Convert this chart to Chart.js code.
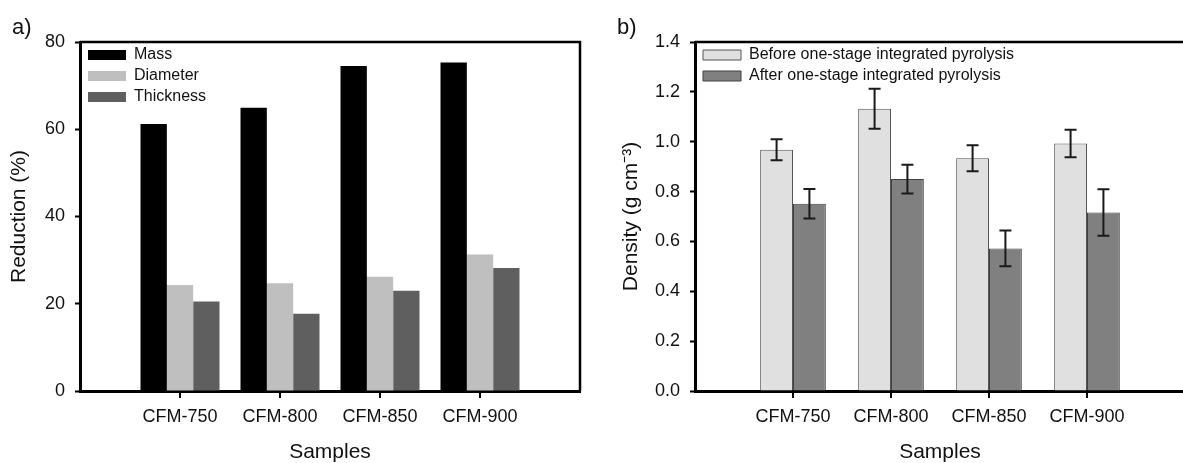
<!DOCTYPE html>
<html>
<head>
<meta charset="utf-8">
<script src="https://cdn.jsdelivr.net/npm/chart.js@4"></script>
<style>
  html, body { margin: 0; padding: 0; background: #fff; overflow: hidden; width: 1183px; height: 463px; }
  .panel { position: absolute; top: 0; width: 600px; height: 463px; }
  .panel canvas { width: 600px; height: 463px; display: block; }
  .tag { position: absolute; top: 16px; font: 22px 'Liberation Sans', Arial, sans-serif; line-height: 22px; color: #111; }
</style>
</head>
<body>
<div class="panel" style="left:0px"><canvas id="chartA" width="600" height="463"></canvas></div>
<div class="panel" style="left:600px"><canvas id="chartB" width="600" height="463"></canvas></div>
<div class="tag" style="left:12px">a)</div>
<div class="tag" style="left:617px">b)</div>
<script>
const samples = ['CFM-750', 'CFM-800', 'CFM-850', 'CFM-900'];

// panel a - reduction (%)
const mass = [61.2, 64.9, 74.5, 75.3];
const diameter = [24.3, 24.7, 26.2, 31.3];
const thickness = [20.5, 17.7, 23.0, 28.2];

// panel b - density (g cm-3)
const densityBefore = [0.968, 1.132, 0.934, 0.993];
const errBefore = [0.042, 0.080, 0.052, 0.055];
const densityAfter = [0.751, 0.850, 0.572, 0.716];
const errAfter = [0.059, 0.058, 0.072, 0.093];

Chart.defaults.font.family = "'Liberation Sans', Arial, sans-serif";
Chart.defaults.color = '#111';

// empty slot on both sides so the groups sit at 1..4 on a 0..5 axis
const pad = arr => [null, ...arr, null];
const padLabels = ['', ...samples, ''];

const frame = {
  id: 'frame',
  afterLayout(chart) {
    // keep the legend inside the plot, in its top-left corner
    const lg = chart.legend, a = chart.chartArea;
    if (!lg) return;
    const w = lg.width, h = lg.height;
    lg.left = a.left + 3; lg.right = lg.left + w;
    lg.top = a.top; lg.bottom = lg.top + h;
  },
  afterDraw(chart) {
    const {ctx, chartArea: a} = chart;
    const x = chart.scales.x;
    ctx.save();
    ctx.strokeStyle = '#000';
    ctx.lineWidth = 2.5;
    ctx.beginPath();
    ctx.moveTo(a.left, a.top);
    ctx.lineTo(a.right, a.top);
    ctx.lineTo(a.right, a.bottom);
    ctx.stroke();
    // tick marks under each sample
    ctx.lineWidth = 2;
    ctx.beginPath();
    samples.forEach((s, i) => {
      const px = Math.round(x.getPixelForValue(i + 1));
      ctx.moveTo(px, a.bottom);
      ctx.lineTo(px, a.bottom + 7);
    });
    ctx.stroke();
    ctx.restore();
  }
};

const errorBars = {
  id: 'errorBars',
  afterDatasetsDraw(chart) {
    const {ctx} = chart;
    const y = chart.scales.y;
    ctx.save();
    ctx.strokeStyle = '#1a1a1a';
    ctx.lineWidth = 2;
    chart.data.datasets.forEach((ds, di) => {
      if (!ds.errors) return;
      chart.getDatasetMeta(di).data.forEach((bar, i) => {
        const v = ds.data[i];
        const e = ds.errors[i];
        if (v == null || e == null) return;
        const top = y.getPixelForValue(v + e);
        const bot = y.getPixelForValue(v - e);
        ctx.beginPath();
        ctx.moveTo(bar.x, top); ctx.lineTo(bar.x, bot);
        ctx.moveTo(bar.x - 6, top); ctx.lineTo(bar.x + 6, top);
        ctx.moveTo(bar.x - 6, bot); ctx.lineTo(bar.x + 6, bot);
        ctx.stroke();
      });
    });
    ctx.restore();
  }
};

function axes(yMax, yStep, yTitle, yAxisWidth, titlePad, tickFmt) {
  return {
    x: {
      offset: false,
      border: {display: true, color: '#000', width: 3},
      grid: {offset: false, drawOnChartArea: false, drawTicks: false},
      ticks: {font: {size: 18}, padding: 15, autoSkip: false, maxRotation: 0},
      title: {display: true, text: 'Samples', font: {size: 21, lineHeight: 1}, padding: {top: 0, bottom: 0}, color: '#111'},
      afterFit: s => { s.height = 72; }
    },
    y: {
      min: 0, max: yMax,
      border: {display: true, color: '#000', width: 3},
      grid: {drawOnChartArea: false, drawTicks: true, tickLength: 5, tickWidth: 2, tickColor: '#000'},
      ticks: {stepSize: yStep, font: {size: 18}, padding: 10, callback: tickFmt},
      title: {display: true, text: yTitle, font: {size: 21, lineHeight: 1}, padding: {top: titlePad, bottom: 0}, color: '#111'},
      afterFit: s => { s.width = yAxisWidth; }
    }
  };
}

const legendOpts = {
  position: 'chartArea',
  align: 'start',
  labels: {boxWidth: 38, boxHeight: 10, padding: 5, font: {size: 16}, color: '#111'}
};

new Chart(document.getElementById('chartA'), {
  type: 'bar',
  data: {
    labels: padLabels,
    datasets: [
      {label: 'Mass', data: pad(mass), backgroundColor: '#000000', borderWidth: 0},
      {label: 'Diameter', data: pad(diameter), backgroundColor: '#bfbfbf', borderWidth: 0},
      {label: 'Thickness', data: pad(thickness), backgroundColor: '#5f5f5f', borderWidth: 0}
    ]
  },
  options: {
    responsive: false,
    animation: false,
    layout: {padding: {top: 42, right: 20, left: 0, bottom: 0}},
    datasets: {bar: {categoryPercentage: 0.79, barPercentage: 1.0}},
    scales: axes(80, 20, 'Reduction (%)', 80, 9, v => v),
    plugins: {legend: legendOpts, tooltip: {enabled: false}}
  },
  plugins: [frame]
});

new Chart(document.getElementById('chartB'), {
  type: 'bar',
  data: {
    labels: padLabels,
    datasets: [
      {label: 'Before one-stage integrated pyrolysis', data: pad(densityBefore), errors: pad(errBefore),
       backgroundColor: '#e0e0e0', borderColor: '#555', borderWidth: 1},
      {label: 'After one-stage integrated pyrolysis', data: pad(densityAfter), errors: pad(errAfter),
       backgroundColor: '#808080', borderColor: '#404040', borderWidth: 1}
    ]
  },
  options: {
    responsive: false,
    animation: false,
    layout: {padding: {top: 42, right: 5, left: 0, bottom: 0}},
    datasets: {bar: {categoryPercentage: 0.67, barPercentage: 1.0}},
    scales: axes(1.4, 0.2, 'Density (g cm\u207B\u00B3)', 95, 21, v => v.toFixed(1)),
    plugins: {legend: legendOpts, tooltip: {enabled: false}}
  },
  plugins: [frame, errorBars]
});
</script>
</body>
</html>
